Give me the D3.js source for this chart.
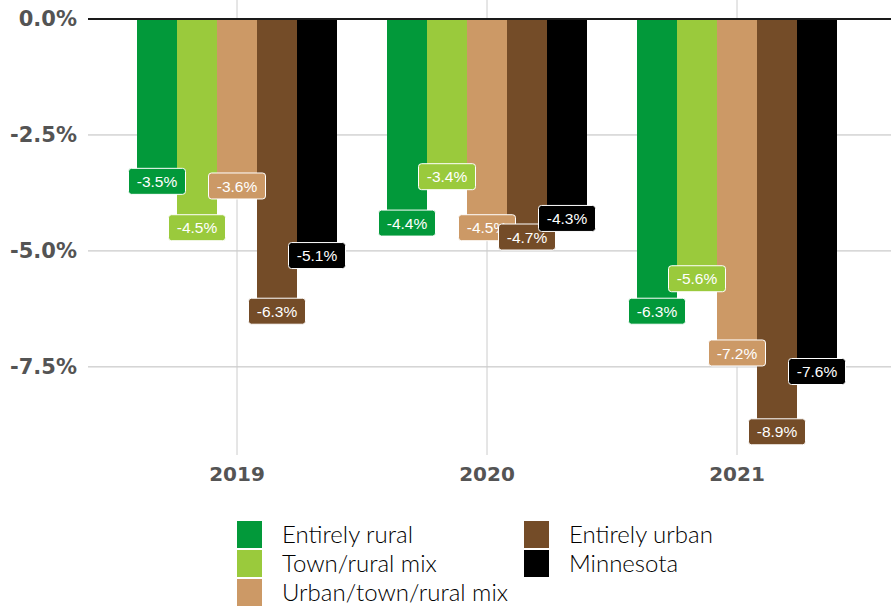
<!DOCTYPE html>
<html>
<head>
<meta charset="utf-8">
<script src="https://cdn.jsdelivr.net/npm/d3@7"></script>
<style>
  html, body { margin: 0; padding: 0; background: #fff; }
  svg { display: block; }
</style>
</head>
<body>
<svg id="chart" width="891" height="607"></svg>
<script>
// Year groups along the x axis
const years = ["2019", "2020", "2021"];
// Area types, one bar per type inside each year
const seriesNames = ["Entirely rural", "Town/rural mix", "Urban/town/rural mix", "Entirely urban", "Minnesota"];
const seriesColors = ["#02993a", "#9aca3c", "#cc9966", "#744c28", "#000000"];
// Percent change per series, in year order
const entirelyRural = [-3.5, -4.4, -6.3];
const townRuralMix = [-4.5, -3.4, -5.6];
const urbanTownRuralMix = [-3.6, -4.5, -7.2];
const entirelyUrban = [-6.3, -4.7, -8.9];
const minnesota = [-5.1, -4.3, -7.6];
const seriesValues = [entirelyRural, townRuralMix, urbanTownRuralMix, entirelyUrban, minnesota];
// Y axis ticks
const yTicks = [0, -2.5, -5, -7.5];

const svg = d3.select("#chart");
const plotLeft = 88, plotRight = 891;

const x = d3.scaleBand().domain(years).range([112, 862]).paddingInner(0.2).paddingOuter(0.1);
const xs = d3.scaleBand().domain(seriesNames).range([0, x.bandwidth()]);
const y = d3.scaleLinear().domain([-9.4, 0]).range([455, 19]);

// Percent format with a plain hyphen for negatives
const fmt = d => d3.format(".1f")(d).replace("\u2212", "-") + "%";

// Grid lines
const grid = svg.append("g");
grid.selectAll("line.h").data(yTicks.filter(t => t !== 0)).join("line")
  .attr("x1", plotLeft).attr("x2", plotRight)
  .attr("y1", d => y(d)).attr("y2", d => y(d))
  .attr("stroke", "#bdbdbd").attr("stroke-width", 1);
grid.selectAll("line.v").data(years).join("line")
  .attr("x1", d => x(d) + x.bandwidth() / 2).attr("x2", d => x(d) + x.bandwidth() / 2)
  .attr("y1", 0).attr("y2", y(-9.4))
  .attr("stroke", "#cccccc").attr("stroke-width", 1);

// Y axis labels
const yAxis = d3.axisLeft(y).tickValues(yTicks).tickSize(0).tickPadding(0).tickFormat(fmt);
svg.append("g").attr("transform", "translate(77,0)").call(yAxis)
  .call(g => g.select(".domain").remove())
  .selectAll("text")
  .attr("font-family", "'DejaVu Sans', sans-serif")
  .attr("font-weight", 700).attr("font-size", 21).attr("fill", "#545454");

// X axis labels
const xAxis = d3.axisBottom(x).tickSize(0).tickPadding(0);
svg.append("g").attr("transform", "translate(0,467)").call(xAxis)
  .call(g => g.select(".domain").remove())
  .selectAll("text")
  .attr("font-family", "'DejaVu Sans', sans-serif")
  .attr("font-weight", 700).attr("font-size", 20).attr("fill", "#545454");

// Bars
const barData = [];
seriesNames.forEach((s, si) => {
  years.forEach((yr, yi) => {
    barData.push({ series: s, si, year: yr, value: seriesValues[si][yi] });
  });
});

svg.append("g").selectAll("rect").data(barData).join("rect")
  .attr("x", d => x(d.year) + xs(d.series))
  .attr("width", xs.bandwidth())
  .attr("y", y(0))
  .attr("height", d => y(d.value) - y(0))
  .attr("fill", d => seriesColors[d.si]);

// Zero line
svg.append("line")
  .attr("x1", plotLeft).attr("x2", plotRight)
  .attr("y1", y(0)).attr("y2", y(0))
  .attr("stroke", "#1a1a1a").attr("stroke-width", 2);

// Value labels, drawn series by series so later ones sit on top
const labels = svg.append("g").selectAll("g").data(barData).join("g")
  .attr("transform", d => `translate(${x(d.year) + xs(d.series) + xs.bandwidth() / 2},${y(d.value)})`);
labels.append("rect")
  .attr("x", -28.5).attr("y", -13).attr("width", 57).attr("height", 26)
  .attr("rx", 3).attr("ry", 3)
  .attr("fill", d => seriesColors[d.si])
  .attr("stroke", "#ffffff").attr("stroke-width", 1);
labels.append("text")
  .attr("text-anchor", "middle").attr("dy", "0.36em")
  .attr("font-family", "'Liberation Sans', Arial, sans-serif")
  .attr("font-size", 15.5).attr("fill", "#ffffff")
  .text(d => fmt(d.value));

// Legend in two columns
const legendPos = [
  { x: 237, y: 521 }, { x: 237, y: 550 }, { x: 237, y: 579 },
  { x: 524, y: 521 }, { x: 524, y: 550 }
];
const legend = svg.append("g").selectAll("g").data(seriesNames).join("g")
  .attr("transform", (d, i) => `translate(${legendPos[i].x},${legendPos[i].y})`);
legend.append("rect").attr("width", 25).attr("height", 27)
  .attr("fill", (d, i) => seriesColors[i]);
legend.append("text").attr("x", 45).attr("y", 14).attr("dy", "0.35em")
  .attr("font-family", "Lato, 'Open Sans', sans-serif")
  .attr("font-weight", 300).attr("font-size", 24).attr("fill", "#000")
  .text(d => d);
</script>
</body>
</html>
